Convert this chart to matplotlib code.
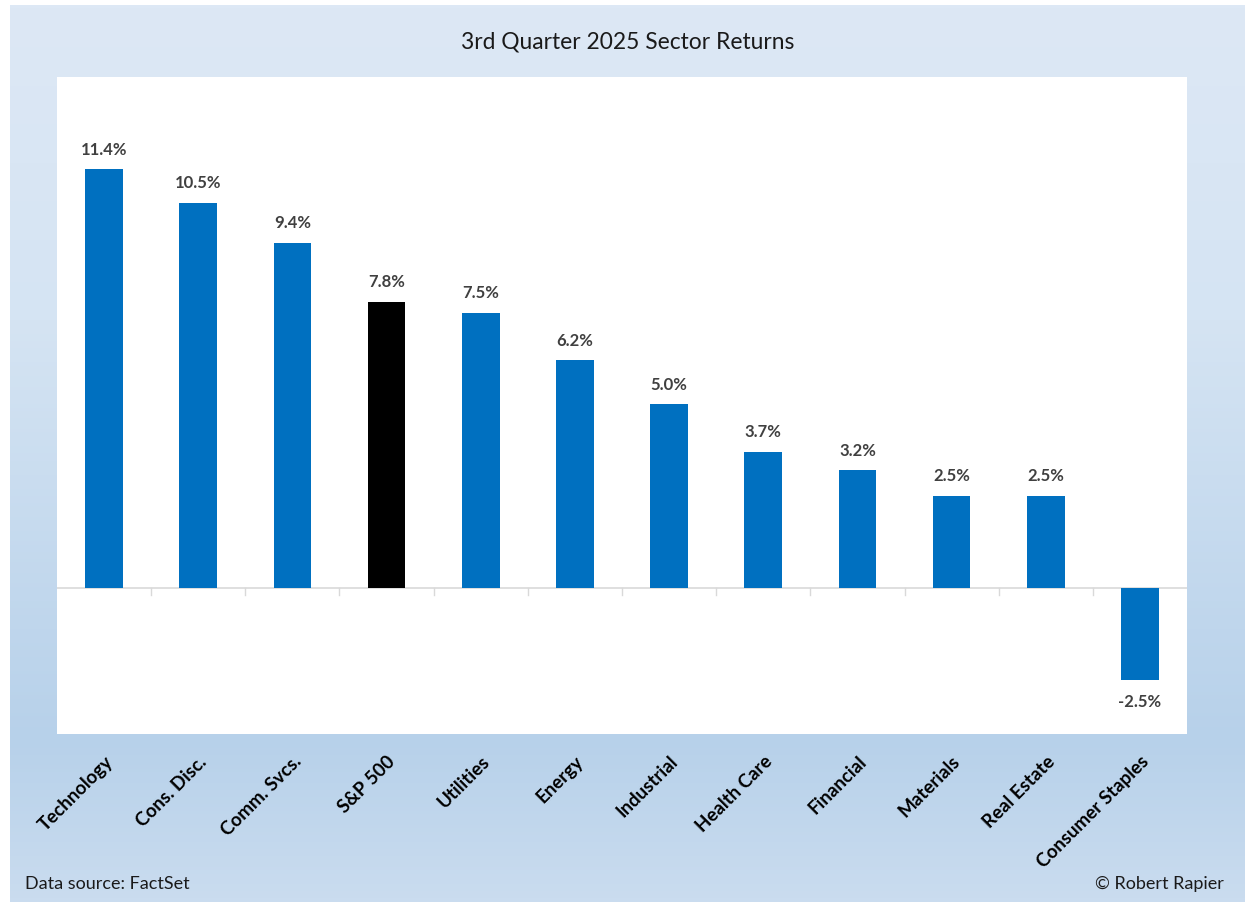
import numpy as np
import matplotlib.pyplot as plt
from matplotlib.colors import LinearSegmentedColormap

sectors = ['Technology', 'Cons. Disc.', 'Comm. Svcs.', 'S&P 500', 'Utilities', 'Energy',
           'Industrial', 'Health Care', 'Financial', 'Materials', 'Real Estate', 'Consumer Staples']
returns = [11.4, 10.5, 9.4, 7.8, 7.5, 6.2, 5.0, 3.7, 3.2, 2.5, 2.5, -2.5]
labels = ['11.4%', '10.5%', '9.4%', '7.8%', '7.5%', '6.2%', '5.0%', '3.7%', '3.2%', '2.5%', '2.5%', '-2.5%']

plt.rcParams['font.family'] = ['Lato', 'DejaVu Sans']

W, H = 1259, 912
fig = plt.figure(figsize=(W / 100, H / 100), dpi=100, facecolor='white')

# gradient panel behind everything
bg = fig.add_axes([10 / W, 1 - 903 / H, 1235 / W, 897 / H], zorder=0)
cmap = LinearSegmentedColormap.from_list('bg', [
    (0.0, '#dde8f5'), (0.35, '#d5e4f3'), (0.82, '#b7d1ea'), (1.0, '#cadcef')])
grad = np.linspace(0, 1, 256).reshape(-1, 1)
bg.imshow(grad, aspect='auto', cmap=cmap, extent=[0, 1, 0, 1], origin='upper')
bg.set_axis_off()

ax = fig.add_axes([57 / W, 1 - 735 / H, 1130 / W, 657 / H], zorder=1)
ax.set_facecolor('white')
x = np.arange(len(sectors))
colors = ['black' if s == 'S&P 500' else '#0070c0' for s in sectors]
ax.bar(x, returns, width=0.4, color=colors, zorder=2)

for xi, v, lab in zip(x, returns, labels):
    off = 0.35 if v >= 0 else -0.35
    ax.text(xi, v + off, lab, ha='center', va='bottom' if v >= 0 else 'top',
            fontsize=12, fontweight='bold', color='#404040')

ax.set_xlim(-0.5, len(sectors) - 0.5)
ax.set_ylim(-3.98, 13.92)
ax.axhline(0, color='#d9d9d9', lw=1.2, zorder=1)

# category boundary ticks along the zero line
for b in np.arange(0.5, len(sectors) - 0.5):
    ax.plot([b, b], [0, -0.2], color='#d9d9d9', lw=1, zorder=1)

ax.set_yticks([])
ax.set_xticks(x)
ax.set_xticklabels(sectors, rotation=45, ha='right', rotation_mode='anchor',
                   fontsize=13.5, fontweight='bold')
ax.tick_params(axis='x', length=0, pad=13)
for sp in ax.spines.values():
    sp.set_visible(False)

fig.text(628 / W, 1 - 42 / H, '3rd Quarter 2025 Sector Returns', ha='center', va='center',
         fontsize=16.4, color='#1a1a1a')
fig.text(25 / W, 1 - 884 / H, 'Data source: FactSet', ha='left', va='center', fontsize=13,
         color='#1a1a1a')
fig.text(1224 / W, 1 - 884 / H, '© Robert Rapier', ha='right', va='center', fontsize=13,
         color='#1a1a1a')

fig.savefig('out.png', dpi=100, facecolor='white')
